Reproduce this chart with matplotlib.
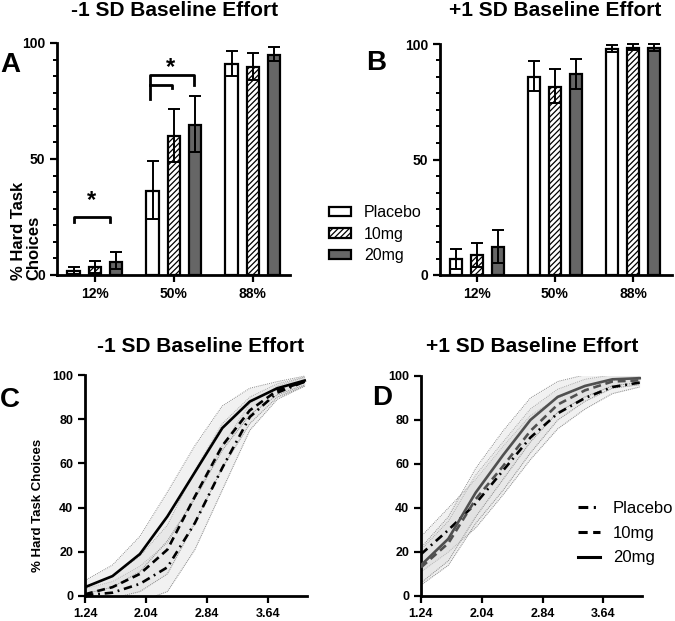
import numpy as np
import matplotlib
matplotlib.use("Agg")
import matplotlib.pyplot as plt
from matplotlib.lines import Line2D
from matplotlib.patches import Patch
from matplotlib.ticker import MultipleLocator

plt.rcParams['font.family'] = ['Liberation Sans', 'DejaVu Sans']
plt.rcParams['hatch.linewidth'] = 0.9

# ---- data: bar panels (A, B) ----
conditions = ['12%', '50%', '88%']
groups = ['Placebo', '10mg', '20mg']

a_mean = {'Placebo': [1.9, 36.4, 91.1], '10mg': [3.6, 59.7, 89.6], '20mg': [5.8, 64.7, 95.0]}
a_low = {'Placebo': [0.3, 24.2, 85.6], '10mg': [1.0, 48.5, 84.2], '20mg': [2.4, 53.2, 92.1]}
a_high = {'Placebo': [3.6, 49.2, 96.7], '10mg': [6.2, 71.5, 95.7], '20mg': [9.8, 77.0, 98.3]}

b_mean = {'Placebo': [6.8, 85.9, 97.7], '10mg': [8.7, 81.5, 98.4], '20mg': [12.3, 87.0, 98.4]}
b_low = {'Placebo': [2.5, 79.8, 96.4], '10mg': [3.6, 74.3, 97.4], '20mg': [5.3, 80.4, 97.1]}
b_high = {'Placebo': [11.3, 92.6, 99.6], '10mg': [14.0, 89.0, 99.9], '20mg': [19.5, 93.5, 99.9]}

# ---- data: curve panels (C, D) ----
reward = [1.24, 1.60, 1.96, 2.32, 2.68, 3.04, 3.40, 3.76, 4.12]
c_curves = {'Placebo': [0.3, 1.5, 5.5, 13, 33, 58, 81, 92, 97],
            '10mg': [0.8, 4, 10, 21, 45, 68, 84, 93, 97],
            '20mg': [4, 9, 19, 36, 56, 76, 88, 94, 97.5]}
c_halfci = [3, 5, 8, 11, 12, 10, 6, 3, 2]
d_curves = {'Placebo': [19, 30, 42, 57, 72, 83, 90, 95, 97],
            '10mg': [13, 24, 44, 59, 75, 87, 93.5, 97.5, 98],
            '20mg': [14, 26, 47, 64, 80, 90.5, 95.5, 98.5, 99]}
d_halfci = [8, 10, 11, 11, 10, 7, 5, 3, 2]
ticks_x = [1.24, 2.04, 2.84, 3.64]

bar_style = {'Placebo': dict(facecolor='white', hatch=None),
             '10mg': dict(facecolor='white', hatch='//////'),
             '20mg': dict(facecolor='#666666', hatch=None)}
offsets = {'Placebo': -0.27, '10mg': 0.0, '20mg': 0.27}
line_style = {'Placebo': (0, (3.2, 1.8, 0.7, 1.8)), '10mg': (0, (3, 1.8)), '20mg': '-'}

W, H = 675, 621
fig = plt.figure(figsize=(6.75, 6.21), dpi=100)


def px_axes(l, r, t, b):
    return fig.add_axes([l / W, 1 - b / H, (r - l) / W, (b - t) / H])


def style_axis(ax, fs):
    for s in ['top', 'right']:
        ax.spines[s].set_visible(False)
    for s in ['left', 'bottom']:
        ax.spines[s].set_linewidth(2.0)
    ax.tick_params(width=1.6, length=5, labelsize=fs)
    for lab in ax.get_xticklabels() + ax.get_yticklabels():
        lab.set_fontweight('bold')


def bar_panel(ax, mean, low, high):
    x = np.arange(len(conditions))
    for g in groups:
        m = np.array(mean[g])
        err = [m - np.array(low[g]), np.array(high[g]) - m]
        ax.bar(x + offsets[g], m, width=0.155, edgecolor='black', linewidth=1.6,
               zorder=2, **bar_style[g])
        ax.errorbar(x + offsets[g], m, yerr=err, fmt='none', ecolor='black',
                    elinewidth=1.4, capsize=4, capthick=1.4, zorder=3, clip_on=False)
    ax.set_xticks(x)
    ax.set_xticklabels(conditions)
    ax.set_ylim(0, 100)
    ax.set_yticks([0, 50, 100])
    ax.yaxis.set_minor_locator(MultipleLocator(50 / 7))
    ax.tick_params(axis='y', which='minor', length=3, width=1.4)
    style_axis(ax, 10)


def curve_panel(ax, curves, halfci, colors):
    xs = np.array(reward)
    for g in groups:
        y = np.array(curves[g])
        lo = y - np.array(halfci)
        hi = y + np.array(halfci)
        ax.fill_between(xs, lo, hi, color='#d9d9d9', alpha=0.35, linewidth=0, zorder=1)
        ax.plot(xs, lo, color='#8a8a8a', lw=0.7, ls=(0, (1, 1)), zorder=1)
        ax.plot(xs, hi, color='#8a8a8a', lw=0.7, ls=(0, (1, 1)), zorder=1)
    for g in groups:
        ax.plot(xs, curves[g], color=colors[g], lw=1.9, ls=line_style[g], zorder=3)
    ax.set_xlim(1.24, 4.15)
    ax.set_ylim(0, 100)
    ax.set_xticks(ticks_x)
    ax.set_xticklabels(['%.2f' % t for t in ticks_x])
    ax.set_yticks([0, 20, 40, 60, 80, 100])
    style_axis(ax, 9)


# Panel A
axA = px_axes(57, 290, 43, 275)
bar_panel(axA, a_mean, a_low, a_high)
axA.set_xlim(-0.48, 2.47)
# significance brackets
axA.plot([-0.27, -0.27, 0.19, 0.19], [23, 25, 25, 23], color='black', lw=2, clip_on=False)
axA.text(-0.04, 32, '*', ha='center', va='center', fontsize=17, fontweight='bold')
axA.plot([0.7, 0.7, 1.26, 1.26], [75.8, 86.3, 86.3, 82], color='black', lw=2, clip_on=False)
axA.plot([0.7, 0.98, 0.98], [82, 82, 80.6], color='black', lw=2, clip_on=False)
axA.text(0.96, 89.5, '*', ha='center', va='center', fontsize=17, fontweight='bold')

# Panel B
axB = px_axes(440, 672, 44, 275)
bar_panel(axB, b_mean, b_low, b_high)
axB.set_xlim(-0.47, 2.5)

# Panel C
axC = px_axes(85, 307, 375, 596)
curve_panel(axC, c_curves, c_halfci, {'Placebo': 'black', '10mg': 'black', '20mg': 'black'})

# Panel D
axD = px_axes(421, 642, 376, 596)
curve_panel(axD, d_curves, d_halfci, {'Placebo': 'black', '10mg': '#505050', '20mg': '#505050'})

# titles and panel letters
tkw = dict(fontsize=15, fontweight='bold', ha='center', va='baseline')
fig.text(175 / W, 1 - 16 / H, '-1 SD Baseline Effort', **tkw)
fig.text(555 / W, 1 - 16 / H, '+1 SD Baseline Effort', **tkw)
fig.text(201 / W, 1 - 352 / H, '-1 SD Baseline Effort', **tkw)
fig.text(532 / W, 1 - 352 / H, '+1 SD Baseline Effort', **tkw)
lkw = dict(fontsize=20, fontweight='bold', va='baseline', ha='left')
fig.text(0 / W, 1 - 72 / H, 'A', **lkw)
fig.text(366 / W, 1 - 70 / H, 'B', **lkw)
fig.text(0 / W, 1 - 407 / H, 'C', **lkw)
fig.text(372 / W, 1 - 405 / H, 'D', **lkw)

# y labels
fig.text(11 / W, 1 - 280 / H, '% Hard Task\nChoices', rotation=90, fontsize=12,
         fontweight='bold', ha='left', va='bottom', multialignment='left', linespacing=1.05)
fig.text(38 / W, 1 - 505 / H, '% Hard Task Choices', rotation=90, fontsize=9.5,
         fontweight='bold', ha='center', va='center')

# legends
bar_handles = [Patch(edgecolor='black', linewidth=1.6, label=g, **bar_style[g]) for g in groups]
fig.legend(handles=bar_handles, loc='upper left', bbox_to_anchor=(329 / W, 1 - 205 / H),
           frameon=False, fontsize=11.5, handlelength=1.4, handleheight=0.5,
           handletextpad=0.8, labelspacing=0.42, borderpad=0, borderaxespad=0)
line_handles = [Line2D([], [], color='black', lw=2.2, ls=line_style[g], label=g) for g in groups]
fig.legend(handles=line_handles, loc='upper left', bbox_to_anchor=(578 / W, 1 - 501 / H),
           frameon=False, fontsize=12, handlelength=1.3,
           handletextpad=0.8, labelspacing=0.58, borderpad=0, borderaxespad=0)

fig.savefig('out.png', dpi=100)
